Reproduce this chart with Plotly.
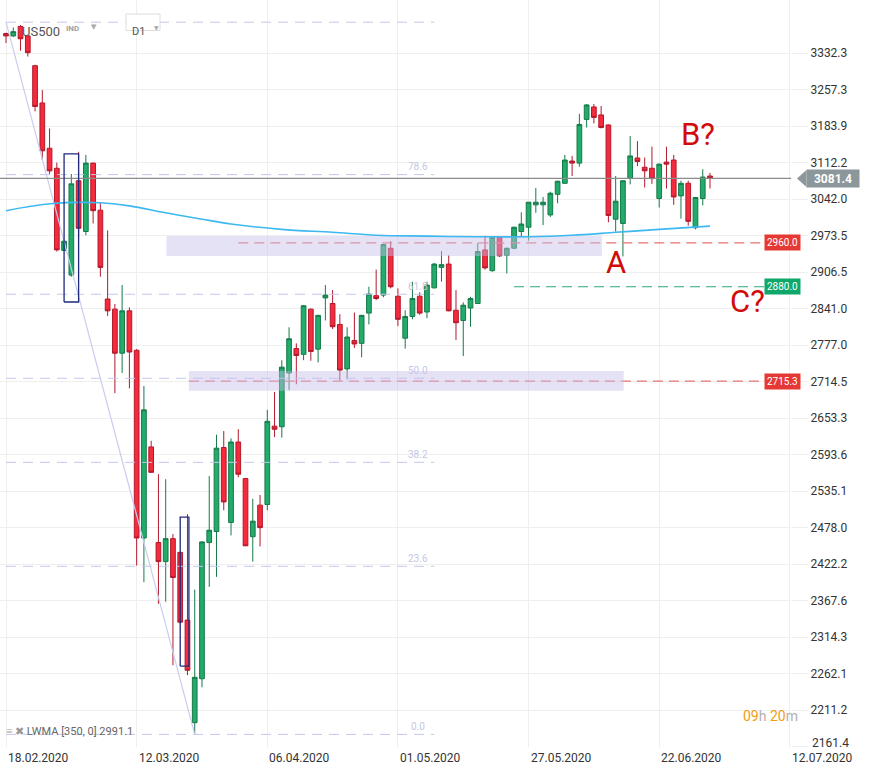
import math
import plotly.graph_objects as go

# ---------------- data ----------------
bars = list(range(98))
open_p = [3373, 3368, 3388, 3368, 3306, 3230, 3140, 3101, 2946, 2901,
          3077, 2981, 3111, 3021, 2858, 2840, 2763, 2837, 2768, 2462,
          2606, 2455, 2426, 2461, 2440, 2339, 2194, 2255, 2455, 2472,
          2605, 2486, 2614, 2555, 2464, 2513, 2514, 2640, 2639, 2729,
          2771, 2761, 2840, 2770, 2860, 2850, 2813, 2736, 2785, 2780,
          2833, 2864, 2865, 2950, 2863, 2789, 2827, 2863, 2835, 2878,
          2915, 2921, 2838, 2820, 2842, 2850, 2947, 2909, 2970, 2937,
          2950, 2981, 2989, 3031, 3031, 3012, 3051, 3072, 3115, 3111,
          3197, 3222, 3206, 3186, 3004, 2996, 3082, 3121, 3103, 3101,
          3043, 3113, 3117, 3048, 3072, 2988, 3043, 3086]
high_p = [3375, 3386, 3391, 3369, 3308, 3256, 3179, 3112, 2964, 3090,
          3133, 3127, 3112, 3034, 2983, 2849, 2883, 2843, 2770, 2707,
          2616, 2562, 2554, 2468, 2441, 2499, 2384, 2457, 2559, 2626,
          2632, 2620, 2635, 2556, 2523, 2529, 2667, 2697, 2751, 2808,
          2780, 2847, 2841, 2830, 2883, 2874, 2831, 2808, 2834, 2830,
          2880, 2911, 2958, 2963, 2877, 2838, 2889, 2870, 2889, 2923,
          2945, 2937, 2874, 2852, 2862, 2960, 2973, 2971, 2971, 2951,
          2990, 3017, 3036, 3063, 3046, 3056, 3077, 3127, 3125, 3208,
          3228, 3228, 3224, 3187, 3086, 3077, 3164, 3154, 3122, 3143,
          3110, 3143, 3127, 3077, 3077, 3046, 3099, 3092]
low_p = [3353, 3366, 3337, 3325, 3213, 3117, 3090, 2944, 2945, 2898,
         2971, 2974, 2996, 2898, 2828, 2695, 2729, 2703, 2420, 2395,
         2564, 2363, 2366, 2274, 2334, 2260, 2178, 2243, 2388, 2403,
         2505, 2466, 2557, 2450, 2426, 2449, 2505, 2622, 2621, 2700,
         2710, 2751, 2750, 2747, 2820, 2805, 2716, 2718, 2772, 2756,
         2813, 2856, 2861, 2877, 2810, 2771, 2822, 2830, 2824, 2877,
         2889, 2836, 2786, 2758, 2809, 2849, 2911, 2907, 2934, 2904,
         2949, 2971, 2964, 3016, 2993, 3008, 3034, 3071, 3086, 3104,
         3181, 3189, 3179, 2998, 2981, 2935, 3070, 3105, 3064, 3071,
         3026, 3062, 3031, 3005, 2992, 2985, 3030, 3062]
close_p = [3368, 3377, 3362, 3333, 3223, 3135, 3096, 2947, 2963, 3071,
           2987, 3111, 3020, 2915, 2837, 2763, 2837, 2765, 2462, 2667,
           2565, 2426, 2461, 2402, 2336, 2267, 2257, 2456, 2474, 2604,
           2518, 2614, 2562, 2450, 2488, 2478, 2648, 2635, 2739, 2788,
           2759, 2846, 2766, 2829, 2865, 2809, 2734, 2791, 2779, 2829,
           2867, 2859, 2957, 2880, 2822, 2827, 2859, 2833, 2883, 2921,
           2920, 2837, 2816, 2847, 2859, 2944, 2914, 2970, 2936, 2950,
           2989, 2995, 3036, 3036, 3036, 3053, 3076, 3117, 3111, 3187,
           3226, 3201, 3181, 3011, 3038, 3077, 3125, 3114, 3096, 3081,
           3109, 3109, 3046, 3072, 3000, 3045, 3084, 3081.4]

lwma_bars = [0, 6, 13, 17, 22, 27, 31, 38, 45, 51, 58, 65, 72, 78, 84, 90, 97]
lwma_vals = [3020, 3033, 3035, 3029, 3016, 3004, 2995, 2985, 2979.5, 2974,
             2972.5, 2971.3, 2971.3, 2974, 2979.5, 2985, 2991.1]

y_tick_vals = [3332.3, 3257.3, 3183.9, 3112.2, 3042.0, 2973.5, 2906.5, 2841.0,
               2777.0, 2714.5, 2653.3, 2593.6, 2535.1, 2478.0, 2422.2, 2367.6,
               2314.3, 2262.1, 2211.2, 2161.4]
x_tick_bars = [0, 18, 36, 54, 72, 90, 108]
x_tick_labels = ["18.02.2020", "12.03.2020", "06.04.2020", "01.05.2020",
                 "27.05.2020", "22.06.2020", "12.07.2020"]

fib_high = 3397.0
fib_low = 2178.0
fib_high_bar = 0
fib_low_bar = 26
fib_end_bar = 59
fib_label_bar = 56.8
fib_levels = [0.0, 23.6, 38.2, 50.0, 61.8, 78.6, 100.0]
fib_labels = ["0.0", "23.6", "38.2", "50.0", "61.8", "78.6", ""]

level_vals = [2960.0, 2880.0, 2715.3]
level_start_bars = [32, 70, 25.2]
level_line_colors = ["#e57373", "#26a879", "#e57373"]
level_box_colors = ["#e53935", "#0fa86a", "#e53935"]

current_price = 3081.4

zone_bar0 = [22.1, 25.2]
zone_bar1 = [82.1, 85.1]
zone_lo = [2936.0, 2699.0]
zone_hi = [2972.5, 2732.5]

box_bar0 = [8, 24]
box_bar1 = [10, 25.2]
box_lo = [2852.7, 2272.8]
box_hi = [3128.9, 2494.4]

mark_texts = ["A", "B?", "C?"]
mark_bars = [84.0, 95.3, 102.2]
mark_vals = [2923.0, 3168.0, 2854.0]

lwma_label = "LWMA [350, 0] 2991.1"
symbol = "US500"
timer_h, timer_m = "09", "20"

# ---------------- layout constants ----------------
W, H = 870, 771
ML, MR, MT, MB = 0, 79, 0, 24
PW, PH = W - ML - MR, H - MT - MB
X_RANGE = [-0.83, 108.16]
Y_RANGE = [3.33464, 3.53711]
FONT = "Roboto"


def yp(v):
    return (math.log10(v) - Y_RANGE[0]) / (Y_RANGE[1] - Y_RANGE[0])


def fib_value(p):
    a, b = math.log10(fib_low), math.log10(fib_high)
    return 10 ** (a + p / 100.0 * (b - a))


fig = go.Figure()

fig.add_trace(go.Candlestick(
    x=bars, open=open_p, high=high_p, low=low_p, close=close_p,
    increasing=dict(fillcolor="#22ab6b", line=dict(color="#157a49", width=1)),
    decreasing=dict(fillcolor="#f42a3d", line=dict(color="#b3192b", width=1)),
    whiskerwidth=0, showlegend=False, hoverinfo="skip"))

# fibonacci levels
fx, fy = [], []
for p in fib_levels:
    v = fib_value(p)
    fx += [fib_high_bar, fib_end_bar, None]
    fy += [v, v, None]
fig.add_trace(go.Scatter(x=fx, y=fy, mode="lines",
                         line=dict(color="#c3c7ee", width=1, dash="10px,7px"),
                         showlegend=False, hoverinfo="skip"))
fig.add_trace(go.Scatter(x=[fib_high_bar, fib_low_bar], y=[fib_high, fib_low],
                         mode="lines", line=dict(color="#c9ccef", width=1.2),
                         showlegend=False, hoverinfo="skip"))

# horizontal level lines
for v, b0, c in zip(level_vals, level_start_bars, level_line_colors):
    fig.add_trace(go.Scatter(x=[b0, X_RANGE[1]], y=[v, v], mode="lines",
                             line=dict(color=c, width=1.2, dash="10px,6px"),
                             showlegend=False, hoverinfo="skip"))

# shaded zones
for b0, b1, lo, hi in zip(zone_bar0, zone_bar1, zone_lo, zone_hi):
    fig.add_trace(go.Scatter(x=[b0, b1, b1, b0, b0], y=[lo, lo, hi, hi, lo],
                             mode="lines", fill="toself",
                             fillcolor="rgba(200,190,235,0.45)",
                             line=dict(width=0), showlegend=False, hoverinfo="skip"))

# LWMA
fig.add_trace(go.Scatter(x=lwma_bars, y=lwma_vals, mode="lines",
                         line=dict(color="#3db8f0", width=1.6, shape="spline"),
                         showlegend=False, hoverinfo="skip"))

# current price line
fig.add_trace(go.Scatter(x=[X_RANGE[0], X_RANGE[1]], y=[current_price, current_price],
                         mode="lines", line=dict(color="#8c8c8c", width=1.2),
                         showlegend=False, hoverinfo="skip"))

# navy boxes
for b0, b1, lo, hi in zip(box_bar0, box_bar1, box_lo, box_hi):
    fig.add_trace(go.Scatter(x=[b0, b1, b1, b0, b0], y=[lo, lo, hi, hi, lo],
                             mode="lines", line=dict(color="#1f2a7a", width=1.3),
                             showlegend=False, hoverinfo="skip"))

ann = []
shapes = []

# fib labels
for p, t in zip(fib_levels, fib_labels):
    if t:
        ann.append(dict(x=fib_label_bar, y=math.log10(fib_value(p)), text=t,
                        showarrow=False, yshift=8,
                        font=dict(family=FONT, size=10, color="#c3c7e3")))

# x tick labels (left aligned at gridlines)
for b, t in zip(x_tick_bars, x_tick_labels):
    ann.append(dict(x=b, xref="x", y=0, yref="paper", text=t, showarrow=False,
                    xanchor="left", yanchor="top", xshift=0, yshift=-2,
                    font=dict(family=FONT, size=12, color="#333333")))

# lowest y tick label, lifted above the date row as in the reference
ann.append(dict(x=1, xref="paper", y=math.log10(y_tick_vals[-1]), yref="y",
                text=f"{y_tick_vals[-1]:.1f}", showarrow=False, xanchor="left",
                xshift=19, yshift=4,
                font=dict(family=FONT, size=12, color="#333333")))

# level boxes
for v, c in zip(level_vals, level_box_colors):
    ann.append(dict(x=801 / PW, xref="paper", y=math.log10(v), yref="y",
                    text=f"{v:.1f}", showarrow=False, xanchor="right",
                    bgcolor=c, borderpad=2,
                    font=dict(family=FONT, size=10, color="white")))

# current price box: arrow tip + labelled box
cy = yp(current_price)
hh = 8.5 / PH
shapes.append(dict(type="path", xref="paper", yref="paper",
                   path=f"M {797 / PW},{cy} L {806.5 / PW},{cy + hh} L {806.5 / PW},{cy - hh} Z",
                   fillcolor="#8c979b", line=dict(width=0), layer="above"))
ann.append(dict(x=806 / PW, xref="paper", y=math.log10(current_price), yref="y",
                text=f"<b>{current_price:.1f}</b>", showarrow=False,
                xanchor="left", width=48, height=13, borderpad=2,
                bgcolor="#8c979b", align="center",
                font=dict(family=FONT, size=12, color="white")))

# A / B? / C?
for t, b, v in zip(mark_texts, mark_bars, mark_vals):
    ann.append(dict(x=b, y=math.log10(v), text=t, showarrow=False,
                    font=dict(family=FONT, size=31, color="#d10a0a")))

# header
ann.append(dict(x=20 / PW, xref="paper", y=1 - 22 / PH, yref="paper", text=symbol,
                showarrow=False, xanchor="left",
                font=dict(family=FONT, size=13, color="#555555")))
ann.append(dict(x=64 / PW, xref="paper", y=1 - 22 / PH, yref="paper", text="<b>IND</b>",
                showarrow=False, xanchor="left",
                font=dict(family=FONT, size=8, color="#9a9fa5")))
ann.append(dict(x=89 / PW, xref="paper", y=1 - 21 / PH, yref="paper", text="▼",
                showarrow=False, font=dict(family="DejaVu Sans", size=7, color="#aaaaaa")))
shapes.append(dict(type="rect", xref="paper", yref="paper",
                   x0=126 / PW, x1=160 / PW, y0=1 - 30.5 / PH, y1=1 - 14 / PH,
                   fillcolor="white", line=dict(color="#dddddd", width=1)))
ann.append(dict(x=130 / PW, xref="paper", y=1 - 22.5 / PH, yref="paper", text="D1",
                showarrow=False, xanchor="left",
                font=dict(family=FONT, size=11, color="#555555")))
ann.append(dict(x=152 / PW, xref="paper", y=1 - 22 / PH, yref="paper", text="▼",
                showarrow=False, font=dict(family="DejaVu Sans", size=6, color="#aaaaaa")))

# LWMA legend
ann.append(dict(x=4 / PW, xref="paper", y=1 - 740 / PH, yref="paper",
                text="<span style='color:#9a9a9a'>≡ ✖</span> " + lwma_label,
                showarrow=False, xanchor="left",
                font=dict(family=FONT, size=11, color="#666666")))

# timer
ann.append(dict(x=800 / PW, xref="paper", y=1 - 726 / PH, yref="paper",
                text=f"<span style='color:#f39c12'>{timer_h}</span>h "
                     f"<span style='color:#f39c12'>{timer_m}</span>m",
                showarrow=False, xanchor="right",
                font=dict(family=FONT, size=14, color="#b0b0b0")))

fig.update_layout(
    width=W, height=H,
    margin=dict(l=ML, r=MR, t=MT, b=MB),
    paper_bgcolor="white", plot_bgcolor="white",
    boxgap=0.1, boxgroupgap=0.28,
    showlegend=False,
    annotations=ann, shapes=shapes,
    xaxis=dict(range=X_RANGE, tickvals=x_tick_bars, showticklabels=False,
               showgrid=True, gridcolor="#efefef", zeroline=False,
               rangeslider=dict(visible=False), fixedrange=True),
    yaxis=dict(type="log", range=Y_RANGE, side="right",
               tickvals=y_tick_vals,
               ticktext=[f"{v:.1f}" for v in y_tick_vals[:-1]] + [""],
               showgrid=True, gridcolor="#efefef", ticks="outside", ticklen=16,
               tickcolor="#efefef", zeroline=False, fixedrange=True,
               tickfont=dict(family=FONT, size=12, color="#333333")),
)

fig.write_html(
    "out.html",
    config={"displayModeBar": False},
    post_script="document.body.style.margin='0px';document.body.style.overflow='hidden';",
)
